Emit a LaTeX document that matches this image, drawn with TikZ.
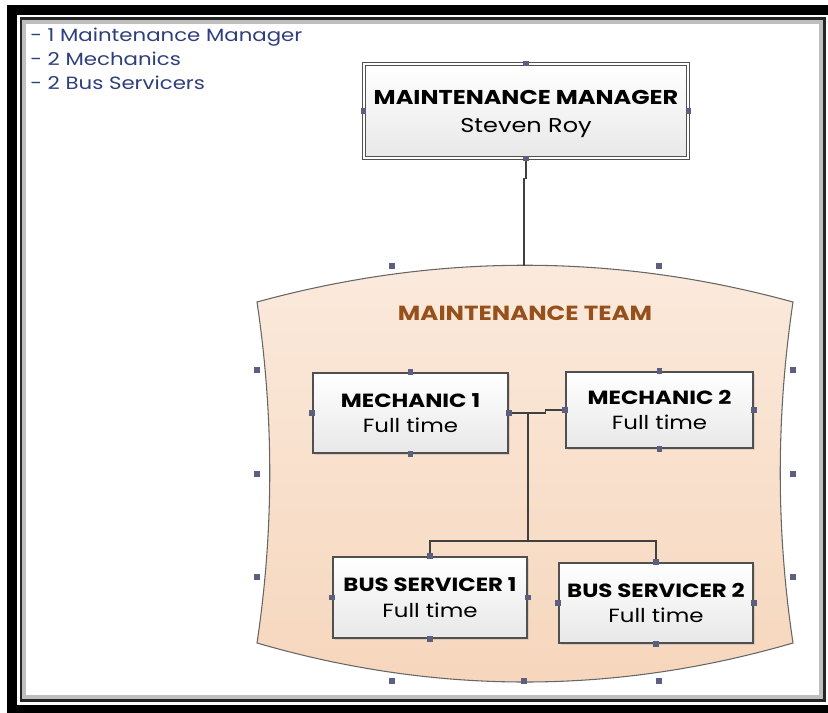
\documentclass[tikz,border=0pt]{standalone}
\usepackage{fontspec}
\setmainfont{Poppins}[FakeStretch=1.2]
\usetikzlibrary{shadows}

\definecolor{listblue}{HTML}{2F3E7C}
\definecolor{teambrown}{HTML}{95501C}
\definecolor{gripblue}{HTML}{5C5F7F}
\definecolor{edgegray}{HTML}{505050}
\definecolor{peachtop}{HTML}{FBEADD}
\definecolor{peachbot}{HTML}{F6D6BC}

\begin{document}
\begin{tikzpicture}[
  x=0.75pt, y=-0.75pt,
  box/.style={
    draw=edgegray, line width=1pt, align=center, inner sep=2pt,
    top color=white, bottom color=black!9,
    font=\fontsize{14.3}{19}\selectfont,
    drop shadow={shadow xshift=1.6pt, shadow yshift=-1.6pt, opacity=0.22},
  },
  boss/.style={box, double=white, double distance=1.6pt, line width=0.9pt,
    font=\fontsize{15}{21}\selectfont, drop shadow={opacity=0}},
  grip/.style={fill=gripblue, minimum size=4.3pt, inner sep=0pt, outer sep=0pt},
  link/.style={draw=black!75, line width=1pt},
]
\useasboundingbox (0,0) rectangle (828,713);

% ---- Page frame: heavy black band, thin inner rule ------------------------
\draw[line width=7.5pt] (12,10) rectangle (850,710);
\draw[black!25, line width=3pt] (24,22) rectangle (821,697);
\draw[black!85, line width=1.8pt] (21,18.5) rectangle (824.5,700.5);

% ---- Head count -------------------------------------------------------------
\node[anchor=north west, align=left, inner sep=0pt, text=listblue,
  font=\fontsize{13.3}{18}\selectfont] (staff) at (30,28)
  {- 1 Maintenance Manager\\- 2 Mechanics\\- 2 Bus Servicers};

% ---- Manager ----------------------------------------------------------------
\node[boss, minimum width=243pt, minimum height=70.5pt] (mgr) at (526,111) {};
\node[font=\fontsize{15}{21}\selectfont, align=center] (mgrtext)
  at ([yshift=-2.5pt]mgr.center) {\textbf{MAINTENANCE MANAGER}\\Steven Roy};

% ---- Team container ---------------------------------------------------------
\path[draw=black!60, line width=0.8pt, top color=peachtop, bottom color=peachbot]
  (257,302) .. controls (436,253) and (614,253) .. (793,302)
  .. controls (776,416) and (776,530) .. (793,643)
  .. controls (614,695) and (436,695) .. (257,643)
  .. controls (274,530) and (274,416) .. cycle;
\coordinate (teamtop) at (524,266);
\node[text=teambrown, font=\fontsize{15.3}{18}\selectfont\bfseries] (teamtitle)
  at (525,313) {MAINTENANCE TEAM};

% ---- Team members -----------------------------------------------------------
\node[box, minimum width=146.25pt, minimum height=60pt] (mech1) at (410.5,413)
  {\textbf{MECHANIC 1}\\Full time};
\node[box, minimum width=140.25pt, minimum height=57pt] (mech2) at (659.5,410)
  {\textbf{MECHANIC 2}\\Full time};
\node[box, minimum width=145.5pt, minimum height=60.75pt] (bus1) at (430,597.5)
  {\textbf{BUS SERVICER 1}\\Full time};
\node[box, minimum width=145.5pt, minimum height=60pt] (bus2) at (656,603)
  {\textbf{BUS SERVICER 2}\\Full time};

% ---- Reporting lines --------------------------------------------------------
\coordinate (hub) at (528,413);
\coordinate (split) at (528,541);
\draw[link] (mgr.south) -- ++(0,20) -| (teamtop);
\draw[link] (mech1.east) -- ++(37,0) |- (mech2.west);
\draw[link] (hub) -- (split);
\draw[link] (bus1.north) |- (split) -| (bus2.north);

% ---- Selection grips --------------------------------------------------------
\foreach \n in {mgr,mech1,mech2,bus1,bus2}
  \foreach \a in {north,south,east,west}
    \node[grip] at (\n.\a) {};
\foreach \x in {392,659}
  \node[grip] at (\x,266) {};
\foreach \x in {392,524,659}
  \node[grip] at (\x,681) {};
\foreach \y in {370,474,577} {
  \node[grip] at (257,\y) {};
  \node[grip] at (793,\y) {};
}

\end{tikzpicture}
\end{document}
